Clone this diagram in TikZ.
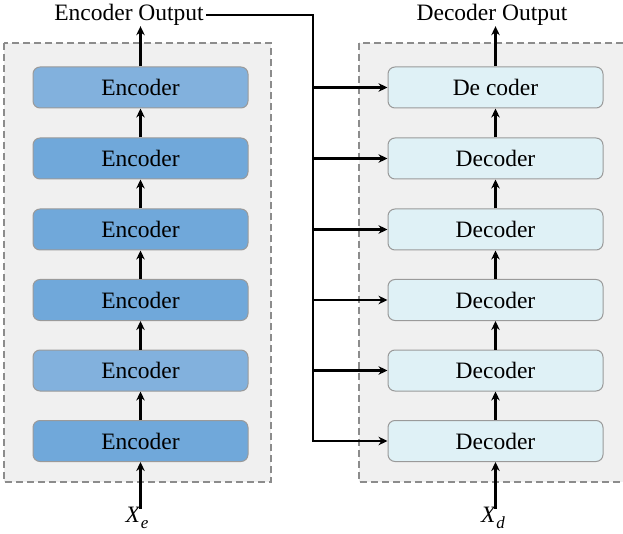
\documentclass[tikz,border=0pt]{standalone}
\usepackage{fontspec}
\setmainfont{Liberation Serif}
\usetikzlibrary{arrows.meta}
\definecolor{encA}{HTML}{70A8DA}
\definecolor{encB}{HTML}{82B1DD}
\definecolor{decF}{HTML}{DFF1F6}
\definecolor{bgF}{HTML}{F0F0F0}
\definecolor{bordG}{HTML}{9A9A9A}
\definecolor{dashG}{HTML}{8C8C8C}
\newcommand{\myvar}[1]{\textit{X}\raisebox{-0.28em}{\fontsize{17}{19}\selectfont\textit{#1}}}
\begin{document}
\begin{tikzpicture}[x=1pt,y=-1pt,
 font=\fontsize{23.5}{27}\selectfont,
 blk/.style={draw=bordG, line width=1pt, rounded corners=7pt, minimum width=215pt, minimum height=41pt, inner sep=0pt},
 enc/.style={blk, fill=encA},
 encl/.style={blk, fill=encB},
 dec/.style={blk, fill=decF},
 panel/.style={draw=dashG, dash pattern=on 7pt off 4pt, line width=1.5pt, fill=bgF},
 arr/.style={line width=2.3pt, -{Stealth[length=9pt,width=8.5pt]}},
 lbl/.style={inner sep=0pt}]
\useasboundingbox (0,0) rectangle (623,534);
\path[panel] (4,43) rectangle (271,482);
\path[panel] (359,43) rectangle (624,482);
% encoders
\node[encl] (e1) at (140.5,87.5) {Encoder};
\node[enc]  (e2) at (140.5,158.5) {Encoder};
\node[enc]  (e3) at (140.5,229.5) {Encoder};
\node[enc]  (e4) at (140.5,300) {Encoder};
\node[encl] (e5) at (140.5,370.5) {Encoder};
\node[enc]  (e6) at (140.5,441) {Encoder};
% decoders
\node[dec] (d1) at (495.5,87.5) {De coder};
\node[dec] (d2) at (495.5,158.5) {Decoder};
\node[dec] (d3) at (495.5,229.5) {Decoder};
\node[dec] (d4) at (495.5,300) {Decoder};
\node[dec] (d5) at (495.5,370.5) {Decoder};
\node[dec] (d6) at (495.5,441) {Decoder};
% labels
\node[lbl, anchor=base] (eo) at (129,21) {Encoder Output};
\node[lbl, anchor=base] (do) at (492,21) {Decoder Output};
\node[lbl] (xe) at (137,518) {\myvar{e}};
\node[lbl] (xd) at (493,518) {\myvar{d}};
% vertical arrows
\draw[arr] (e1.north) -- (e1.north |- eo.south);
\draw[arr] (e2.north) -- (e1.south);
\draw[arr] (e3.north) -- (e2.south);
\draw[arr] (e4.north) -- (e3.south);
\draw[arr] (e5.north) -- (e4.south);
\draw[arr] (e6.north) -- (e5.south);
\draw[arr] ([yshift=-2pt]e6.south |- xe.north) -- (e6.south);
\draw[arr] (d1.north) -- (d1.north |- do.south);
\draw[arr] (d2.north) -- (d1.south);
\draw[arr] (d3.north) -- (d2.south);
\draw[arr] (d4.north) -- (d3.south);
\draw[arr] (d5.north) -- (d4.south);
\draw[arr] (d6.north) -- (d5.south);
\draw[arr] ([yshift=-2pt]d6.south |- xd.north) -- (d6.south);
% bus from encoder output
\coordinate (jb) at (313,441);
\draw[arr, line join=miter] ([xshift=2pt]eo.east) -| (jb) -- (d6.west);
\draw[arr] (jb |- d1.west) -- (d1.west);
\draw[arr] (jb |- d2.west) -- (d2.west);
\draw[arr] (jb |- d3.west) -- (d3.west);
\draw[arr] (jb |- d4.west) -- (d4.west);
\draw[arr] (jb |- d5.west) -- (d5.west);
\end{tikzpicture}
\end{document}
